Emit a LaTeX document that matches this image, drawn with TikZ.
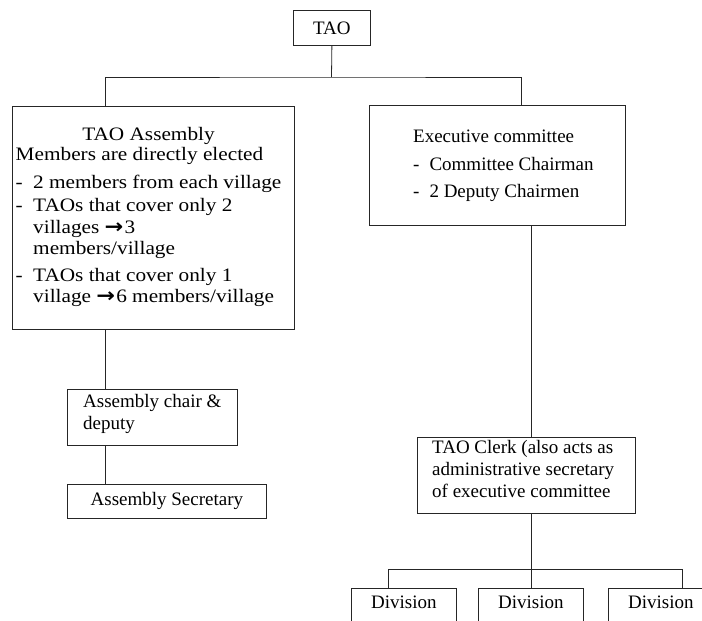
\documentclass[tikz,border=0pt]{standalone}
\usepackage{fontspec}
\setmainfont{Liberation Serif}
\newfontfamily\arrowfont{DejaVu Sans}
\newcommand{\goesto}{\scalebox{1.05}{\arrowfont\bfseries →}\hspace{1pt}}

\begin{document}
\begin{tikzpicture}[x=1pt, y=-1pt,
  box/.style={draw=black!85, line width=0.8pt, inner sep=0pt, anchor=north west},
  txt/.style={inner sep=0pt, anchor=north west, align=left},
  link/.style={draw=black!85, line width=0.8pt}]

\fontsize{19}{22}\selectfont
\useasboundingbox (0,0) rectangle (702,621);
\clip (0,0) rectangle (702,621);

% boxes
\node[box, minimum width=77, minimum height=35] (tao) at (293,10) {TAO};
\node[box, minimum width=282, minimum height=223] (asm) at (12,106) {};
\node[box, minimum width=256, minimum height=120] (exe) at (369,105) {};
\node[box, minimum width=170, minimum height=56] (chair) at (67,389) {};
\node[box, minimum width=199, minimum height=34] (secr) at (67,484) {Assembly Secretary};
\node[box, minimum width=218, minimum height=76] (clerk) at (417,437) {};
\foreach \x/\n in {351/1, 478/2, 608/3}
  \node[box, minimum width=105, text height=14pt, text depth=30pt, inner ysep=6pt]
    (div\n) at (\x,588) {Division};

% texts
\node[txt] (asmtxt) at (15.5,126) {\scalebox{1.12}[1]{%
  \fontsize{19}{20}\selectfont
  \begin{tabular}{@{}l@{\hspace{9.3pt}}l@{}}
  \multicolumn{2}{@{}c@{}}{TAO Assembly}\\
  \multicolumn{2}{@{}l@{}}{Members are directly elected}\\[8pt]
  - & 2 members from each village\\[3.5pt]
  - & TAOs that cover only 2\\[1.5pt]
    & villages \goesto3\\[1pt]
    & members/village\\[7.5pt]
  - & TAOs that cover only 1\\[1pt]
    & village \goesto6 members/village
  \end{tabular}}};
\node[txt] (exetxt) at (413,127) {%
  \begin{tabular}{@{}l@{\hspace{10pt}}l@{}}
  \multicolumn{2}{@{}l@{}}{Executive committee}\\[5.5pt]
  - & Committee Chairman\\[5.5pt]
  - & 2 Deputy Chairmen
  \end{tabular}};
\node[txt] (chairtxt) at (83,394.6) {Assembly chair \&\\ deputy};
\node[txt] (clerktxt) at (432,440.3) {TAO Clerk (also acts as\\ administrative secretary\\ of executive committee};

% connectors
\coordinate (bus) at (331.5,77);
\coordinate (asmtop) at (105,106);
\coordinate (exetop) at (521,105);
\draw[link] (tao.south) -- (bus);
\draw[link] (asmtop) |- (bus) -| (exetop);
\draw[link] (asm.south -| asmtop) -- (chair.north -| asmtop);
\draw[link] (chair.south -| asmtop) -- (secr.north -| asmtop);

\coordinate (clerkdrop) at (531,0);
\draw[link] (exe.south -| clerkdrop) -- (clerk.north -| clerkdrop);
\coordinate (divbus) at (531,569);
\coordinate (d1) at (388,569);
\coordinate (d3) at (682,569);
\draw[link] (clerk.south -| divbus) -- (divbus);
\draw[link] (d1) -- (d3);
\draw[link] (d1) -- (div1.north -| d1);
\draw[link] (divbus) -- (div2.north -| divbus);
\draw[link] (d3) -- (div3.north -| d3);
\end{tikzpicture}
\end{document}
